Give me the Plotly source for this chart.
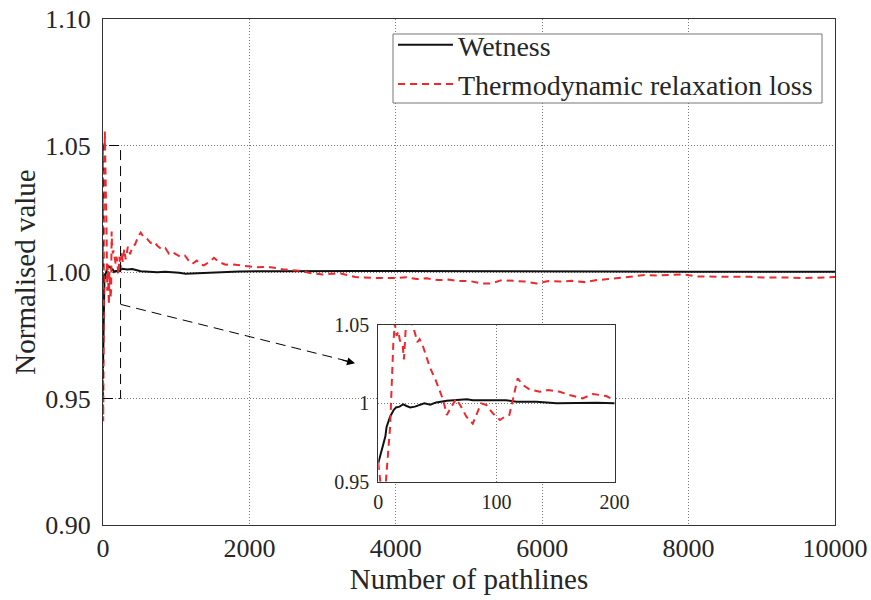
import plotly.graph_objects as go

# ---------------- data ----------------
wet_x = [0, 1, 3, 4, 6, 7, 10, 13, 15, 18, 21, 24, 27, 31, 35, 39, 44, 49, 58, 66, 75, 80, 89,
         100, 108, 117, 134, 151, 170, 185, 200,
         230, 264, 330, 400, 515, 620, 742, 850, 947, 1040, 1129, 1260, 1400, 1600, 1858, 2300,
         2700, 3000, 3500, 4000, 4500, 5000, 5500, 6000, 6500, 7000, 8000, 9000, 10000]
wet_y = [0.962, 0.965, 0.970, 0.9745, 0.979, 0.985, 0.9915, 0.9957, 0.9974, 0.9979, 0.9994, 0.9983,
         0.9974, 0.9979, 0.999, 1.0, 0.9991, 1.0006, 1.0017, 1.0021, 1.0026, 1.002, 1.0019,
         1.0017, 1.002, 1.001, 1.001, 1.0, 1.0004, 1.0004, 1.0,
         1.0008, 1.0013, 1.0010, 1.0012, 1.0003, 1.0002, 0.9999, 1.0001, 1.0, 0.9997, 0.9993,
         0.9995, 0.9997, 0.9999, 1.0002, 1.0003,
         1.0004, 1.0004, 1.0004, 1.0004, 1.0004, 1.0004, 1.0004, 1.0003, 1.0003, 1.0002,
         1.0001, 1.0001, 1.0001]

loss_x = [0, 3, 6, 8, 10, 12.7, 14, 15.5, 17, 18.3, 20.5, 21.7, 23.4, 25, 28, 31, 33, 35, 38,
          43.7, 49, 55, 58, 62, 66, 70, 74.6, 80, 84.5, 87, 91.5, 97, 103, 107, 111, 114, 118,
          122.5, 128, 136.6, 143.7, 153.5, 162, 173, 181.7, 193, 200,
          210, 225, 240, 255, 270, 290, 310, 340, 370, 400, 440, 480, 515, 560, 605, 650, 700,
          742, 800, 850, 902, 950, 1000, 1061, 1120, 1170, 1220, 1280, 1330, 1380, 1450, 1516,
          1580, 1676, 1760, 1858, 1960, 2086, 2190, 2291, 2453, 2710, 2850, 3004, 3120, 3247,
          3450, 3638, 3770, 4013, 4149, 4286, 4422, 4581, 4717, 4854, 5014, 5174, 5311, 5447,
          5605, 5765, 5925, 6084, 6243, 6403, 6585, 6745, 6903, 7063, 7245, 7404, 7586, 7746,
          7928, 8110, 8292, 8474, 8656, 8839, 9020, 9203, 9385, 9590, 9772, 10000]
loss_y = [0.962, 0.941, 0.946, 0.965, 0.985, 1.038, 1.051, 1.043, 1.046, 1.040, 1.038, 1.028,
          1.050, 1.0555, 1.052, 1.045, 1.039, 1.041, 1.036,
          1.023, 1.014, 1.002, 0.9926, 0.998, 1.003, 0.998, 0.9915, 0.987, 0.9957, 1.0, 0.999,
          0.9936, 0.9894, 0.9915, 0.9926, 1.002, 1.016, 1.0117, 1.0089, 1.0074, 1.0085, 1.0074,
          1.0053, 1.0032, 1.006, 1.0047, 1.002,
          0.999, 1.006, 1.001, 1.008, 1.004, 1.009, 1.005, 1.010, 1.007, 1.0098, 1.011, 1.014,
          1.0156, 1.0135, 1.013, 1.0115, 1.012, 1.0104, 1.009, 1.0095, 1.0072, 1.0078, 1.007,
          1.006, 1.0065, 1.0045, 1.0032, 1.0045, 1.003, 1.0026, 1.004, 1.0056, 1.004, 1.0029,
          1.003, 1.0026, 1.0022, 1.0019, 1.002, 1.0019, 1.0011, 1.0004, 0.9995, 0.999, 0.9993,
          0.9994, 0.998, 0.9976, 0.9976, 0.9976, 0.9979, 0.9972, 0.9975, 0.9968, 0.997, 0.9964,
          0.9964, 0.9955, 0.9955, 0.9968, 0.9966, 0.9962, 0.9955, 0.9964, 0.9962, 0.9965, 0.996,
          0.9968, 0.9972, 0.9978, 0.9982, 0.9988, 0.9986, 0.9988, 0.9991, 0.9982, 0.9982,
          0.9982, 0.9982, 0.9981, 0.9978, 0.9979, 0.9978, 0.9976, 0.9979, 0.998]

series_names = ["Wetness", "Thermodynamic relaxation loss"]

main_xticks = [0, 2000, 4000, 6000, 8000, 10000]
main_yticks = [0.90, 0.95, 1.00, 1.05, 1.10]
main_yticktext = ["0.90", "0.95", "1.00", "1.05", "1.10"]
inset_xticks = [0, 100, 200]
inset_yticks = [0.95, 1.0, 1.05]
inset_yticktext = ["0.95", "1", "1.05"]

# ---------------- styling ----------------
FONT = "Liberation Serif"
TXT = "#262626"
BLACK = "#111111"
RED = "#ec2a2e"
GRID = "#7a7a7a"

fig = go.Figure()

for xa, ya, show in (("x", "y", True), ("x2", "y2", False)):
    fig.add_trace(go.Scatter(x=wet_x, y=wet_y, mode="lines", name=series_names[0],
                             line=dict(color=BLACK, width=2), xaxis=xa, yaxis=ya,
                             showlegend=show))
    fig.add_trace(go.Scatter(x=loss_x, y=loss_y, mode="lines", name=series_names[1],
                             line=dict(color=RED, width=2, dash="7px,5px"),
                             xaxis=xa, yaxis=ya, showlegend=show))

W, H = 871, 600
L, R, T, B = 103, 36, 19, 75
pw, ph = W - L - R, H - T - B

def px_to_paper_x(px):
    return (px - L) / pw

def px_to_paper_y(py):
    return (H - B - py) / ph

axis_common = dict(showline=True, mirror=True, linecolor="#333333", linewidth=1,
                   showgrid=True, gridcolor=GRID, griddash="1px,2px", gridwidth=1,
                   zeroline=False, ticks="", automargin=False)

fig.update_layout(
    width=W, height=H,
    margin=dict(l=L, r=R, t=T, b=B),
    paper_bgcolor="white", plot_bgcolor="white",
    font=dict(family=FONT, color=TXT, size=26),
    xaxis=dict(range=[0, 10000], tickvals=main_xticks, ticktext=[str(v) for v in main_xticks],
               tickfont=dict(size=26), ticklabelstandoff=0,
               title=dict(text="Number of pathlines", font=dict(size=29), standoff=2),
               domain=[0, 1], **axis_common),
    yaxis=dict(range=[0.90, 1.10], tickvals=main_yticks, ticktext=main_yticktext,
               tickfont=dict(size=26), ticklabelstandoff=6,
               title=dict(text="Normalised value", font=dict(size=29), standoff=1),
               domain=[0, 1], **axis_common),
    xaxis2=dict(range=[0, 200], tickvals=inset_xticks, ticktext=[str(v) for v in inset_xticks],
                tickfont=dict(size=20), anchor="y2", ticklabelstandoff=2,
                domain=[px_to_paper_x(378.3), px_to_paper_x(614.5)], **axis_common),
    yaxis2=dict(range=[0.95, 1.05], tickvals=inset_yticks, ticktext=inset_yticktext,
                tickfont=dict(size=20), anchor="x2", ticklabelstandoff=4,
                domain=[px_to_paper_y(481.7), px_to_paper_y(325)], **axis_common),
    legend=dict(x=px_to_paper_x(393), y=px_to_paper_y(20), xanchor="left", yanchor="top",
                bgcolor="rgba(0,0,0,0)", borderwidth=0,
                font=dict(size=28, family=FONT, color=TXT), itemwidth=55,
                tracegroupgap=0),
    shapes=[
        # white background of the inset
        dict(type="rect", xref="x2", yref="y2", x0=0, x1=200, y0=0.95, y1=1.05,
             fillcolor="white", line=dict(width=0), layer="below"),
        # legend frame
        dict(type="rect", xref="paper", yref="paper",
             x0=px_to_paper_x(393), x1=px_to_paper_x(822),
             y0=px_to_paper_y(103), y1=px_to_paper_y(34),
             fillcolor="white", line=dict(color="#777777", width=1), layer="above"),
        # zoom window on the main axes
        dict(type="rect", xref="x", yref="y", x0=0, x1=240, y0=0.95, y1=1.05,
             line=dict(color="black", width=1, dash="10px,6px"), fillcolor="rgba(0,0,0,0)"),
        # dashed connector
        dict(type="line", xref="x", yref="y", x0=240, y0=0.9872, x1=3380, y1=0.9645,
             line=dict(color="black", width=1, dash="10px,6px")),
    ],
    annotations=[
        dict(x=3443, y=0.9639, xref="x", yref="y", text="", showarrow=True,
             ax=-14, ay=-3.5, axref="pixel", ayref="pixel", arrowhead=2, arrowsize=1.6,
             arrowwidth=1, arrowcolor="black", standoff=0),
    ],
)

fig.write_html("out.html")
